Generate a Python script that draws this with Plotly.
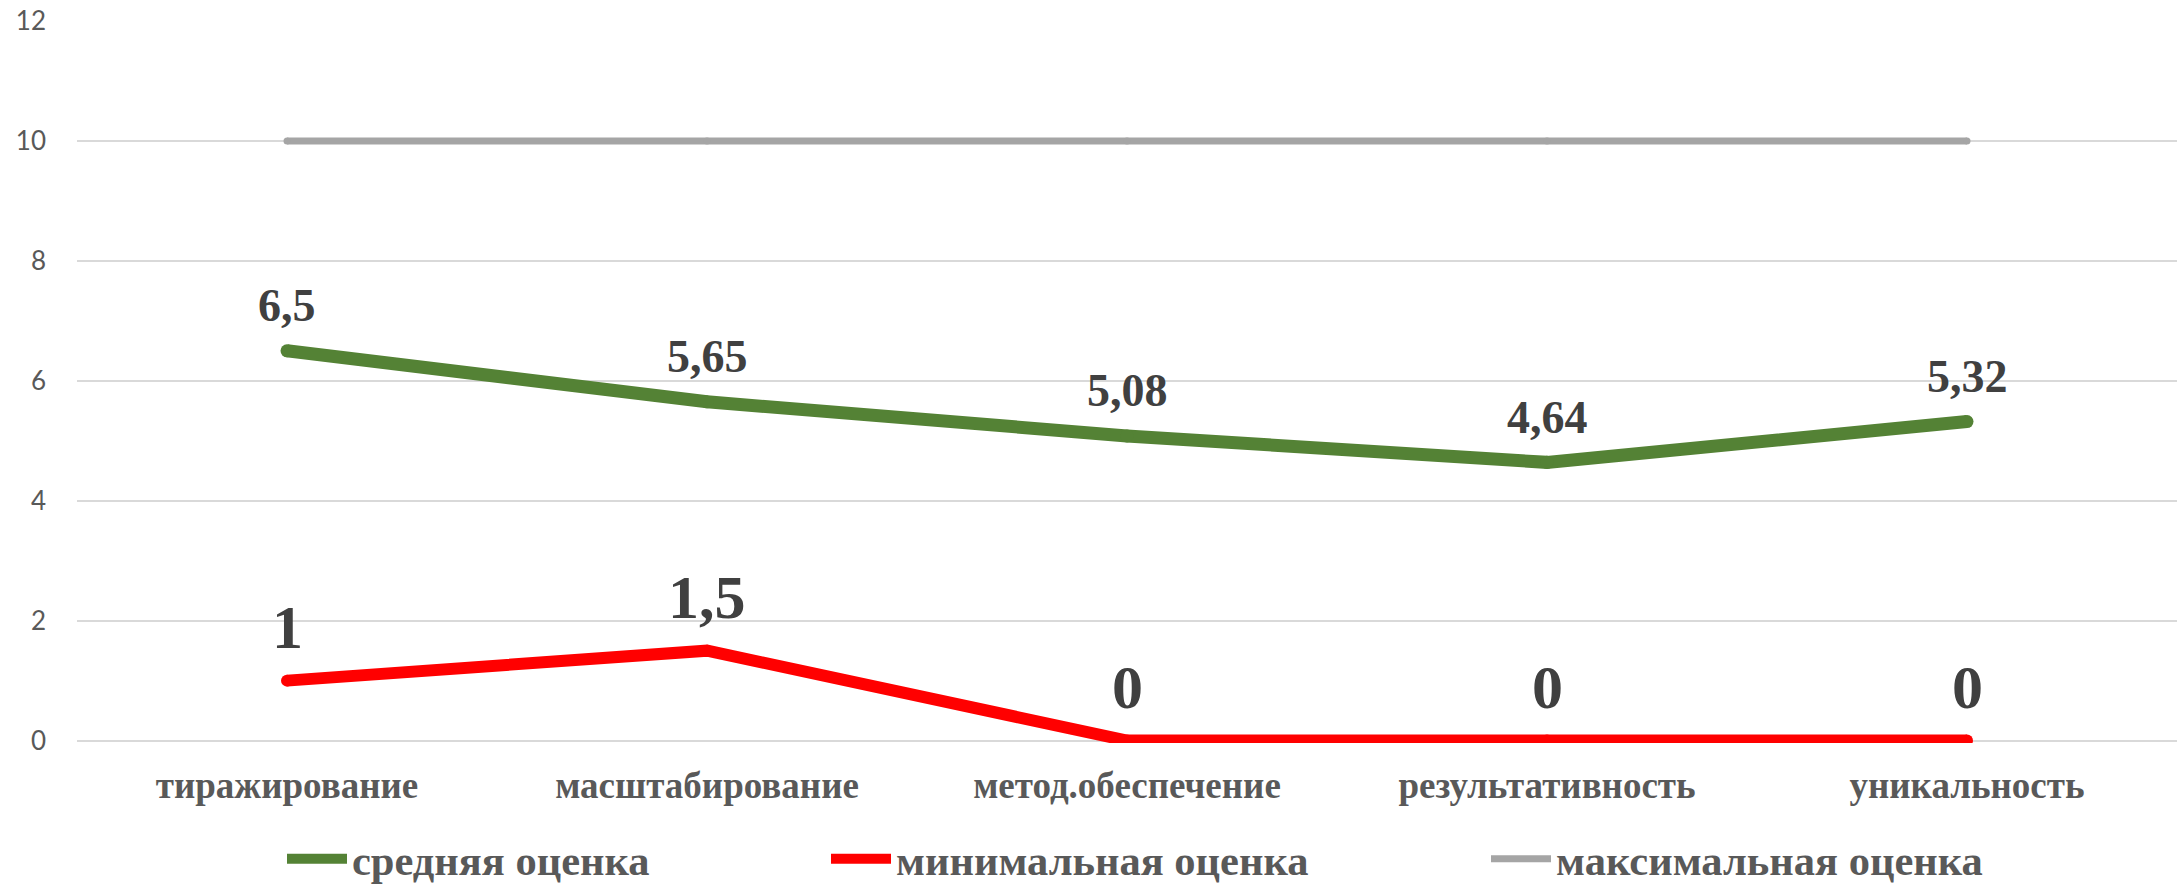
import plotly.graph_objects as go

categories = ["тиражирование", "масштабирование", "метод.обеспечение", "результативность", "уникальность"]
avg_scores = [6.5, 5.65, 5.08, 4.64, 5.32]
min_scores = [1, 1.5, 0, 0, 0]
max_scores = [10, 10, 10, 10, 10]
series_names = ["средняя оценка", "минимальная оценка", "максимальная оценка"]
y_ticks = [0, 2, 4, 6, 8, 10, 12]

GREEN = "#548235"
RED = "#FF0000"
GRAY = "#A5A5A5"
SERIF = "Liberation Serif"

W, H = 2178, 888
ML, MR, MT, MB = 77, 1, 21, 145
plot_w = W - ML - MR
plot_h = H - MT - MB

def px_x(p):
    return (p - ML) / plot_w

def px_y(p):
    return (H - MB - p) / plot_h

xs = list(range(len(categories)))

fig = go.Figure()
series = [
    (max_scores, series_names[2], GRAY, 7, "legend3"),
    (min_scores, series_names[1], RED, 12, "legend2"),
    (avg_scores, series_names[0], GREEN, 13, "legend"),
]
for vals, name, color, w, leg in series:
    fig.add_trace(go.Scatter(x=xs, y=vals, name=name, mode="lines",
                             line=dict(color=color, width=w), legend=leg, hoverinfo="skip"))
    fig.add_trace(go.Scatter(x=xs, y=vals, mode="markers", showlegend=False,
                             marker=dict(size=w, color=color, line=dict(width=0)),
                             hoverinfo="skip"))

def fmt(v):
    return f"{v:g}".replace(".", ",")

for x, v in zip(xs, avg_scores):
    fig.add_annotation(x=x, y=v, text=fmt(v), showarrow=False, yshift=45,
                       font=dict(family=SERIF, size=46, color="#404040", weight="bold"))
for x, v in zip(xs, min_scores):
    fig.add_annotation(x=x, y=v, text=fmt(v), showarrow=False, yshift=54,
                       font=dict(family=SERIF, size=62, color="#404040", weight="bold"))

legend_font = dict(family=SERIF, size=42.5, color="#595959", weight="bold")
leg_y = px_y(859)
common = dict(orientation="h", yanchor="middle", y=leg_y, xanchor="left",
              font=legend_font, bgcolor="rgba(0,0,0,0)", itemwidth=60)

fig.update_layout(
    width=W, height=H,
    margin=dict(l=ML, r=MR, t=MT, b=MB, autoexpand=False),
    plot_bgcolor="white", paper_bgcolor="white",
    showlegend=True,
    legend=dict(x=px_x(282), **common),
    legend2=dict(x=px_x(826), **common),
    legend3=dict(x=px_x(1486), **common),
    xaxis=dict(range=[-0.5, 4.5], tickmode="array", tickvals=xs, ticktext=categories,
               showgrid=False, zeroline=False, showline=False, ticks="", automargin=False,
               tickfont=dict(family=SERIF, size=37, color="#595959", weight="bold"),
               ticklabelstandoff=17),
    yaxis=dict(range=[-0.04, 12], tickmode="array", tickvals=y_ticks, automargin=False,
               showgrid=True, gridcolor="#D9D9D9", gridwidth=1.5, zeroline=False,
               showline=False, ticks="",
               tickfont=dict(family="Lato", size=26, color="#595959"),
               ticklabelstandoff=30),
)

fig.write_html("out.html", config={"displayModeBar": False},
               post_script="document.body.style.margin='0';document.body.style.overflow='hidden';")
